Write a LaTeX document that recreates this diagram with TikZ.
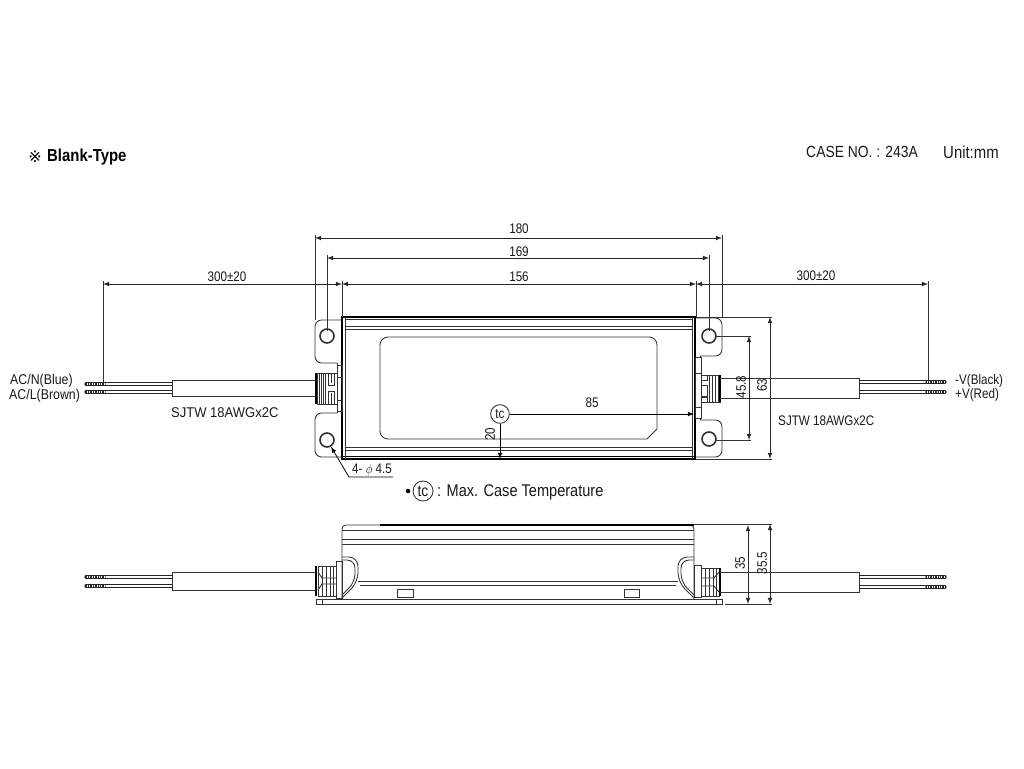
\documentclass[tikz,border=0pt]{standalone}
\usepackage{fontspec}
\setmainfont{Liberation Sans}
\newfontfamily\symfont{DejaVu Sans}
\usetikzlibrary{arrows}
\tikzset{
  dimline/.style={<->,>=latex,line width=0.6pt,black!85},
  extline/.style={line width=0.55pt,black!80},
  edgeline/.style={line width=0.65pt,black!80},
  heavyline/.style={line width=1.3pt,black},
  label/.style={font=\fontsize{10.4}{11}\selectfont,inner sep=0pt,transform shape,xscale=0.84,black!90},
  widelabel/.style={font=\fontsize{10.6}{11}\selectfont,inner sep=0pt,transform shape,xscale=0.92,black!90},
  biglabel/.style={font=\fontsize{12}{13}\selectfont,inner sep=0pt,transform shape,xscale=0.86,black!90},
  hole/.style={line width=1.2pt,black!80},
  wire/.style={line width=0.6pt,black!85},
  tipdark/.style={line width=2.5pt,black!85},
  tiplight/.style={line width=0.8pt,white,dash pattern=on 0.7pt off 1.1pt}
}
\begin{document}
\begin{tikzpicture}[x=0.75pt,y=-0.75pt]
\useasboundingbox (0,0) rectangle (1024,768);
% headings
\node[anchor=west,inner sep=0pt,font=\bfseries\fontsize{13}{14}\selectfont,transform shape,xscale=0.86] (headtype) at (47,157) {Blank-Type};
\node[anchor=west,inner sep=0pt,font=\symfont\fontsize{12}{13}\selectfont] (headmark) at (28,157) {※};
\node[biglabel,anchor=west,font=\fontsize{12.1}{13}\selectfont] (caseno) at (806,152) {CASE NO. : 243A};
\node[biglabel,anchor=west,font=\fontsize{13}{14}\selectfont] (unitmm) at (943,152) {Unit:mm};

% top view body
\draw[heavyline] (342,317) rectangle (695,459);
\draw[edgeline] (345,319.5) -- (692,319.5);
\draw[edgeline] (345,326.5) -- (692,326.5);
\draw[edgeline] (345,329.5) -- (692,329.5);
\draw[edgeline] (345,447.5) -- (692,447.5);
\draw[edgeline] (345,450.5) -- (692,450.5);
\draw[heavyline] (342,456.5) -- (695,456.5);
\draw[edgeline] (345,317) -- (345,459);
\draw[edgeline] (692,317) -- (692,459);
\draw[edgeline,rounded corners=6pt] (520,337) -- (657,337) [sharp corners] -- (657,429) -- (647,439) [rounded corners=6pt] -- (380,439) -- (380,337) -- (520,337);
% flanges
\draw[edgeline,rounded corners=5pt] (342,320) -- (315,320) -- (315,363) -- (337,363);
\draw[edgeline] (337,363) -- (337,365);
\draw[edgeline,rounded corners=5pt] (337,413) -- (315,413) -- (315,457) -- (342,457);
\draw[edgeline] (337,411) -- (337,413);
\draw[edgeline,rounded corners=5pt] (696,318) -- (722,318) -- (722,356) -- (700,356);
\draw[edgeline] (700,356) -- (700,357);
\draw[edgeline,rounded corners=5pt] (700,420) -- (722,420) -- (722,457) -- (696,457);
\draw[edgeline] (700,418) -- (700,420);
\node[circle,draw,hole,minimum size=10.5pt,inner sep=0pt] (holeA) at (327,336) {};
\node[circle,draw,hole,minimum size=10.5pt,inner sep=0pt] (holeB) at (327,440) {};
\node[circle,draw,hole,minimum size=10.5pt,inner sep=0pt] (holeC) at (709,336) {};
\node[circle,draw,hole,minimum size=10.5pt,inner sep=0pt] (holeD) at (709,439) {};
% left grommet
\draw[edgeline] (337,365) rectangle (342,411);
\draw[edgeline] (337,377) -- (342,377);
\draw[edgeline] (337,400) -- (342,400);
\draw[edgeline] (317,373) rectangle (337,404);
\draw[line width=1.6pt] (316,373) -- (316,404);
\foreach \xa in {319,321,323,325} \draw[extline] (\xa,373) -- (\xa,404);
\draw[edgeline] (328,373) -- (328,385) -- (334,385) -- (334,373);
\draw[edgeline] (331,373) -- (331,383);
\draw[edgeline] (328,404) -- (328,391) -- (334,391) -- (334,404);
\draw[edgeline] (331,404) -- (331,393);
% right grommet
\draw[edgeline] (695,357) rectangle (701,418);
\draw[edgeline] (695,373) -- (701,373);
\draw[edgeline] (695,407) -- (701,407);
\draw[edgeline] (701,375) rectangle (720,402);
\draw[line width=1.6pt] (720,375) -- (720,402);
\foreach \xa in {709,712,715,718} \draw[extline] (\xa,375) -- (\xa,402);
\draw[edgeline] (701,380) -- (707,380) -- (707,375);
\draw[edgeline] (701,385) -- (707,385) -- (707,396) -- (701,396);
\draw[edgeline] (701,397) -- (707,397) -- (707,402);
% cables top view
\draw[edgeline] (316,380) -- (172,380) -- (172,396) -- (316,396);
\draw[edgeline] (720,378) -- (859,378) -- (859,398) -- (720,398);
\foreach \ya in {382.5,385.5,390.5,393.5} \draw[wire] (172,\ya) -- (104,\ya);
\foreach \ya in {380.5,383.5,390.5,393.5} \draw[wire] (859,\ya) -- (927,\ya);
\foreach \ya in {384,392} {
  \draw[tipdark,line cap=round] (86,\ya) -- (104,\ya);
  \draw[tiplight] (87,\ya) -- (104,\ya);
}
\foreach \ya in {382,392} {
  \draw[tipdark,line cap=round] (927,\ya) -- (945,\ya);
  \draw[tiplight] (927,\ya) -- (944,\ya);
}
\node[widelabel,anchor=west,xscale=0.95] (acn) at (10,381) {AC/N(Blue)};
\node[widelabel,anchor=west,xscale=0.95] (acl) at (9,396) {AC/L(Brown)};
\node[label,anchor=west] (vneg) at (955,381) {-V(Black)};
\node[label,anchor=west] (vpos) at (955,395) {+V(Red)};
\node[widelabel,anchor=west] (cableL) at (171,413) {SJTW 18AWGx2C};
\node[label,anchor=west] (cableR) at (778,421) {SJTW 18AWGx2C};

% dimensions above
\draw[extline] (315,235) -- (315,320);
\draw[extline] (722,235) -- (722,318);
\draw[extline] (327,255) -- (327,331);
\draw[extline] (709,255) -- (709,331);
\draw[extline] (342,281) -- (342,317);
\draw[extline] (696,281) -- (696,317);
\draw[extline] (103,281) -- (103,382);
\draw[extline] (928,281) -- (928,380);
\draw[dimline] (315,238) -- (722,238);
\draw[dimline] (327,258) -- (709,258);
\draw[dimline] (342,284) -- (696,284);
\draw[dimline] (103,284) -- (342,284);
\draw[dimline] (696,284) -- (928,284);
\node[label] (dimA) at (519,229) {180};
\node[label] (dimB) at (519,252) {169};
\node[label] (dimC) at (519,277) {156};
\node[label] (dimL) at (227,277) {300±20};
\node[label] (dimR) at (816,276) {300±20};
% dimensions right
\draw[extline] (696,317) -- (772,317);
\draw[extline] (696,459) -- (772,459);
\draw[extline] (716,336) -- (751,336);
\draw[extline] (716,440) -- (751,440);
\draw[dimline] (770,317) -- (770,459);
\draw[dimline] (749,336) -- (749,440);
\node[rotate=90,label] (dimG) at (762,385) {63};
\node[rotate=90,label] (dimH) at (741,387) {45.8};
% case temperature point
\node[circle,draw,edgeline,minimum size=14pt,inner sep=0pt] (tc) at (500,414) {};
\node[label] (tctext) at (500,414) {tc};
\coordinate (tcright) at (694,414);
\coordinate (tcdown) at (500,459);
\draw[->,>=latex,line width=0.6pt] (tc) -- (tcright);
\draw[->,>=latex,line width=0.6pt] (tc) -- (tcdown);
\node[label] (dimJ) at (592,403) {85};
\node[rotate=90,label] (dimK) at (490,434) {20};
% mounting hole note
\coordinate (leadbend) at (349,477);
\coordinate (leadend) at (393,477);
\draw[->,>=latex,line width=0.6pt] (leadend) -- (leadbend) -- (holeB);
\node[label,anchor=west] (holenote) at (352,470) {4- $\phi$ 4.5};
% case temperature note
\node[circle,fill,inner sep=0pt,minimum size=3.4pt] (bullet) at (408,491) {};
\node[circle,draw,edgeline,minimum size=15pt,inner sep=0pt] (tcnote) at (423,491) {};
\node[biglabel,font=\fontsize{12}{13}\selectfont] (tcnotetext) at (423,491) {tc};
\node[biglabel,anchor=west,font=\fontsize{12.7}{13}\selectfont] (tcmeaning) at (437,492) {: Max. Case Temperature};

% side view body
\draw[edgeline,rounded corners=3pt] (342,598) -- (342,525) -- (694,525) -- (694,599);
\draw[heavyline] (380,525) -- (694,525);
\draw[edgeline] (342,530) -- (694,530);
\draw[edgeline] (342,539) -- (694,539);
\draw[edgeline] (342,544) -- (694,544);
\draw[edgeline] (358,581.5) -- (678,581.5);
\draw[edgeline] (360,585) -- (676,585);
\draw[edgeline] (316,599) rectangle (722,604);
\draw[edgeline] (322,599) -- (322,604);
\draw[edgeline] (716,599) -- (716,604);
\draw[edgeline,rounded corners=7pt] (342,557) -- (358,557) -- (358,582) [sharp corners] -- (342,598);
\draw[edgeline,rounded corners=6pt] (342,560) -- (355,560) -- (355,582) [sharp corners] -- (342,595);
\draw[edgeline,rounded corners=7pt] (694,557) -- (678,557) -- (678,582) [sharp corners] -- (694,598);
\draw[edgeline,rounded corners=6pt] (694,560) -- (681,560) -- (681,582) [sharp corners] -- (694,595);
\draw[edgeline] (397,589) rectangle (413,597);
\draw[edgeline] (624,589) rectangle (639,597);
% side grommets
\draw[edgeline] (336,561) rectangle (342,598);
\draw[edgeline] (318,566) rectangle (336,596);
\draw[line width=1.6pt] (316,566) -- (316,596);
\foreach \xa in {322,326,330,333} \draw[extline] (\xa,566) -- (\xa,596);
\draw[edgeline] (318,572) -- (322,578) -- (336,578);
\draw[edgeline] (318,590) -- (322,584) -- (336,584);
\draw[edgeline] (694,565) rectangle (701,597);
\draw[edgeline] (701,568) rectangle (719,596);
\draw[line width=1.6pt] (720,568) -- (720,596);
\foreach \xa in {705,709,713,716} \draw[extline] (\xa,568) -- (\xa,596);
\draw[edgeline] (701,578) -- (714,578) -- (719,572);
\draw[edgeline] (701,586) -- (714,586) -- (719,592);
% side cables
\draw[edgeline] (316,572) -- (172,572) -- (172,590) -- (316,590);
\draw[edgeline] (720,572) -- (859,572) -- (859,592) -- (720,592);
\foreach \ya in {575.5,578.5,584.5,587.5} \draw[wire] (172,\ya) -- (104,\ya);
\foreach \ya in {575.5,578.5,585.5,588.5} \draw[wire] (859,\ya) -- (927,\ya);
\foreach \ya in {577,586} {
  \draw[tipdark,line cap=round] (86,\ya) -- (104,\ya);
  \draw[tiplight] (87,\ya) -- (104,\ya);
}
\foreach \ya in {577,587} {
  \draw[tipdark,line cap=round] (927,\ya) -- (945,\ya);
  \draw[tiplight] (927,\ya) -- (944,\ya);
}
% side dimensions
\draw[extline] (694,524) -- (772,524);
\draw[extline] (725,604) -- (772,604);
\draw[dimline] (748,525) -- (748,604);
\draw[dimline] (770,524) -- (770,604);
\node[rotate=90,label] (dimM) at (740,563) {35};
\node[rotate=90,label] (dimN) at (762,563) {35.5};
\end{tikzpicture}
\end{document}
